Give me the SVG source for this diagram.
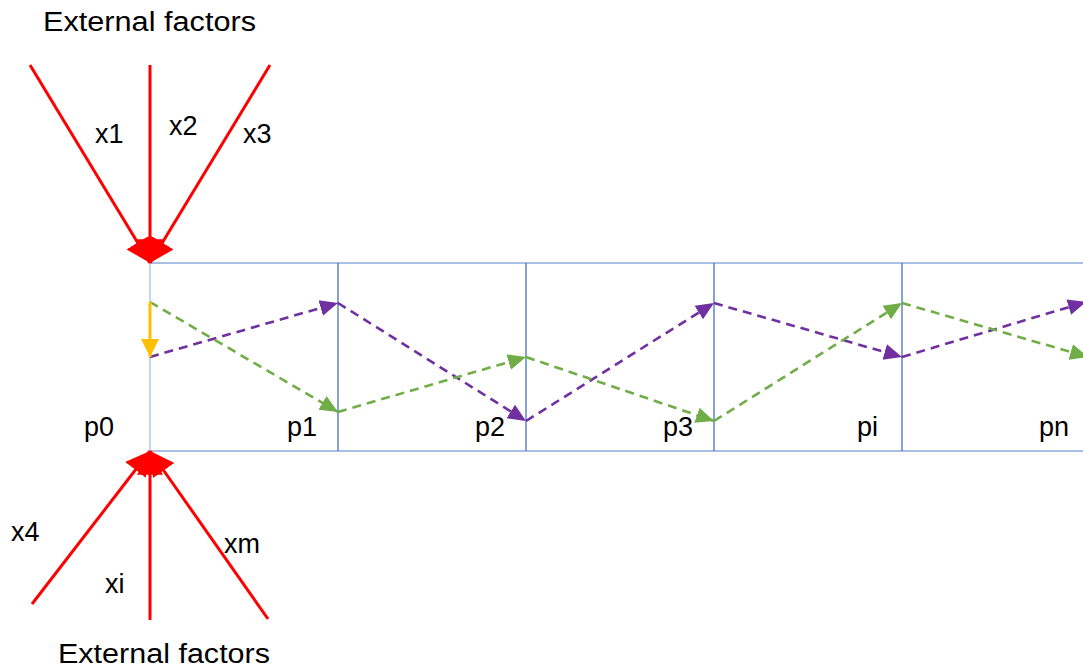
<svg xmlns="http://www.w3.org/2000/svg" width="1083" height="669" viewBox="0 0 1083 669">
<style>
text{font-family:"Liberation Sans","Open Sans",sans-serif;font-size:27px;fill:#000}
.red{stroke:#FF0000;stroke-width:3;fill:none}
.grid{stroke:#8FAADC;stroke-width:1.3;fill:none}
.vline{stroke:#4472C4;stroke-width:1.3;fill:none}
.purple{stroke:#7030A0;stroke-width:2.6;stroke-dasharray:9 6;fill:none}
.green{stroke:#70AD47;stroke-width:2.6;stroke-dasharray:9 6;fill:none}
</style>
<defs>
<marker id="ar" markerUnits="userSpaceOnUse" markerWidth="26" markerHeight="26" refX="22" refY="12" orient="auto" viewBox="0 0 24 24"><path d="M0,0 L22,12 L0,24 Z" fill="#FF0000"/></marker>
<marker id="ap" markerUnits="userSpaceOnUse" markerWidth="20" markerHeight="18" refX="18" refY="8" orient="auto" viewBox="0 0 20 16"><path d="M0,0 L18,8 L0,16 Z" fill="#7030A0"/></marker>
<marker id="ag" markerUnits="userSpaceOnUse" markerWidth="20" markerHeight="18" refX="18" refY="8" orient="auto" viewBox="0 0 20 16"><path d="M0,0 L18,8 L0,16 Z" fill="#70AD47"/></marker>
<marker id="ay" markerUnits="userSpaceOnUse" markerWidth="20" markerHeight="20" refX="18" refY="9" orient="auto" viewBox="0 0 20 18"><path d="M0,0 L18,9 L0,18 Z" fill="#FFC000"/></marker>
</defs>
<g id="grid">
<line class="grid" x1="150" y1="263" x2="1083" y2="263"/>
<line class="grid" x1="150" y1="451" x2="1083" y2="451"/>
<line x1="150" y1="263" x2="150" y2="451" stroke="#B4C7E7" stroke-width="1.5"/>
<line class="vline" x1="338" y1="263" x2="338" y2="451"/>
<line class="vline" x1="526" y1="263" x2="526" y2="451"/>
<line class="vline" x1="714" y1="263" x2="714" y2="451"/>
<line class="vline" x1="902" y1="263" x2="902" y2="451"/>
</g>
<g id="connectors">
<line class="red" x1="30" y1="65" x2="150" y2="263" marker-end="url(#ar)"/>
<line class="red" x1="150" y1="65" x2="150" y2="263" marker-end="url(#ar)"/>
<line class="red" x1="270" y1="65" x2="150" y2="263" marker-end="url(#ar)"/>
<line class="red" x1="32" y1="604" x2="150" y2="451" marker-end="url(#ar)"/>
<line class="red" x1="150" y1="620" x2="150" y2="451" marker-end="url(#ar)"/>
<line class="red" x1="268" y1="619" x2="150" y2="451" marker-end="url(#ar)"/>
<line class="purple" x1="150" y1="357" x2="338" y2="303" marker-end="url(#ap)"/>
<line class="purple" x1="338" y1="303" x2="526" y2="421" marker-end="url(#ap)"/>
<line class="purple" x1="526" y1="421" x2="714" y2="303" marker-end="url(#ap)"/>
<line class="purple" x1="714" y1="303" x2="902" y2="357" marker-end="url(#ap)"/>
<line class="purple" x1="902" y1="357" x2="1086" y2="302" marker-end="url(#ap)"/>
<line class="green" x1="150" y1="302" x2="338" y2="412" marker-end="url(#ag)"/>
<line class="green" x1="338" y1="412" x2="526" y2="357" marker-end="url(#ag)"/>
<line class="green" x1="526" y1="357" x2="714" y2="421" marker-end="url(#ag)"/>
<line class="green" x1="714" y1="421" x2="902" y2="303" marker-end="url(#ag)"/>
<line class="green" x1="902" y1="303" x2="1088" y2="357" marker-end="url(#ag)"/>
<line x1="150" y1="302" x2="150" y2="357" stroke="#FFC000" stroke-width="3" marker-end="url(#ay)"/>
</g>
<g id="labels">
<text x="43" y="31" textLength="213" lengthAdjust="spacingAndGlyphs">External factors</text>
<text x="58" y="663" textLength="212" lengthAdjust="spacingAndGlyphs">External factors</text>
<text x="95" y="143">x1</text>
<text x="169" y="135">x2</text>
<text x="243" y="143">x3</text>
<text x="11" y="541">x4</text>
<text x="105" y="593">xi</text>
<text x="224" y="553">xm</text>
<text x="84" y="436">p0</text>
<text x="287" y="436">p1</text>
<text x="475" y="436">p2</text>
<text x="663" y="436">p3</text>
<text x="857" y="436">pi</text>
<text x="1039" y="436">pn</text>
</g>
</svg>
